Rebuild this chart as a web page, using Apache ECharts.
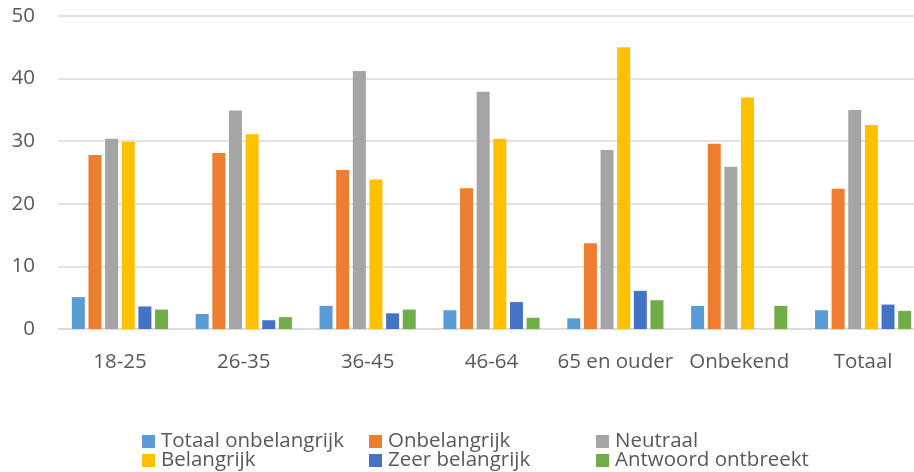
<!DOCTYPE html>
<html>
<head>
<meta charset="utf-8">
<script src="https://cdn.jsdelivr.net/npm/echarts@6/dist/echarts.min.js"></script>
<style>
html,body{margin:0;padding:0;background:#fff;overflow:hidden;}
#main{width:914px;height:472px;}
</style>
</head>
<body>
<div id="main"></div>
<script>
var chart=echarts.init(document.getElementById("main"));

var categories=['18-25','26-35','36-45','46-64','65 en ouder','Onbekend','Totaal'];
var seriesNames=['Totaal onbelangrijk','Onbelangrijk','Neutraal','Belangrijk','Zeer belangrijk','Antwoord ontbreekt'];
var totaalOnbelangrijk=[5.1,2.4,3.7,3.0,1.7,3.7,3.0];
var onbelangrijk=[27.8,28.1,25.4,22.5,13.7,29.6,22.4];
var neutraal=[30.4,34.9,41.2,37.9,28.6,25.9,35.0];
var belangrijk=[29.9,31.1,23.9,30.4,45.0,37.0,32.6];
var zeerBelangrijk=[3.6,1.4,2.5,4.3,6.1,0,3.9];
var antwoordOntbreekt=[3.1,1.9,3.1,1.8,4.6,3.7,2.9];
var colors=['#5B9BD5','#ED7D31','#A5A5A5','#FFC000','#4472C4','#70AD47'];

var values=[totaalOnbelangrijk,onbelangrijk,neutraal,belangrijk,zeerBelangrijk,antwoordOntbreekt];
var font='"Open Sans", sans-serif';

// legend: 2 rijen, 3 kolommen
var legendPos=[[142,431],[369,431],[596,431],[142,450],[369,450],[596,450]];
var legends=seriesNames.map(function(n,i){
	return {
		data:[n],
		left:legendPos[i][0],
		top:legendPos[i][1],
		itemWidth:13,
		itemHeight:13,
		itemGap:5,
		icon:'rect',
		textStyle:{color:'#595959',fontSize:20.5,lineHeight:21,fontFamily:font,padding:[0,0,0,1]},
		padding:0
	};
});

// plot loopt rechts iets buiten beeld (afgesneden zoals in het origineel)
var option={
	animation:false,
	color:colors,
	legend:legends,
	grid:{
		left:58,
		width:867,
		top:16,
		bottom:143,
		outerBoundsMode:'none'
	},
	xAxis:{
		type:'category',
		data:categories,
		axisLine:{show:true,lineStyle:{color:'#D9D9D9',width:1.5}},
		axisTick:{show:false},
		axisLabel:{color:'#595959',fontSize:20.5,fontFamily:font,margin:23,interval:0}
	},
	yAxis:{
		type:'value',
		min:0,
		max:50,
		interval:10,
		axisLine:{show:false},
		axisTick:{show:false},
		axisLabel:{color:'#595959',fontSize:20.5,fontFamily:font,margin:23},
		splitLine:{lineStyle:{color:'#D9D9D9',width:1.5}}
	},
	series:seriesNames.map(function(n,i){
		return {
			name:n,
			type:'bar',
			data:values[i],
			barWidth:13,
			barGap:'28%'
		};
	})
};

chart.setOption(option);
</script>
</body>
</html>
